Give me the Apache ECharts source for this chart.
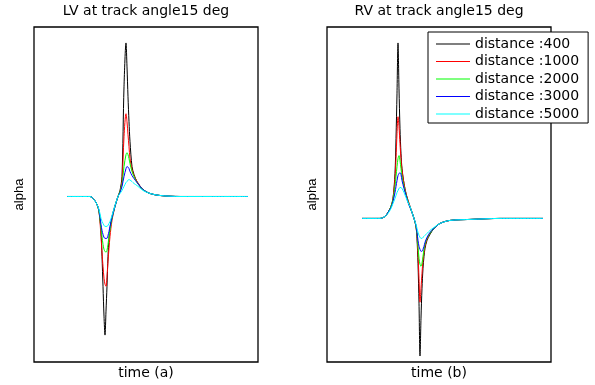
<!DOCTYPE html>
<html>
<head>
<meta charset="utf-8">
<script src="https://cdn.jsdelivr.net/npm/echarts@6/dist/echarts.min.js"></script>
<style>html,body{margin:0;padding:0;background:#fff}#c{width:595px;height:385px}</style>
</head>
<body>
<div id="c"></div>
<script>
// ---- data (time in arbitrary samples, alpha in arbitrary units) ----
const seriesNames = ['distance :400', 'distance :1000', 'distance :2000', 'distance :3000', 'distance :5000'];
const seriesColors = ['#000000', '#ff0000', '#00ff00', '#0000ff', '#00ffff'];

const timeLV = [33, 51, 56, 60, 63, 65, 67, 68, 69, 70, 71, 72, 73, 74, 75, 76, 78, 81, 84, 86, 88, 90, 92, 93, 94, 95, 96, 98, 100, 103, 109, 116, 126, 146, 176, 214];
const lv400  = [0, 0, 0, -3, -8, -15, -35, -60, -90, -120, -139, -115, -90, -60, -42, -32, -20, -9, 0, 6, 20, 110, 154, 130, 100, 75, 55, 30, 22, 15, 7, 3, 1, 0, 0, 0];
const lv1000 = [0, 0, 0, -3, -8, -15, -40, -56, -70, -82, -88, -90, -80, -65, -52, -40, -24, -10, 0, 5, 15, 60, 83, 75, 62, 50, 38, 27, 21, 15, 7, 3, 1, 0, 0, 0];
const lv2000 = [0, 0, 0, -3, -8, -15, -32, -40, -48, -53, -55, -56, -54, -48, -40, -33, -22, -10, 0, 5, 12, 30, 42, 44, 42, 38, 33, 25, 20, 14, 7, 3, 1, 0, 0, 0];
const lv3000 = [0, 0, 0, -3, -8, -14, -28, -34, -38, -41, -42, -42, -42, -39, -35, -30, -21, -10, 0, 4, 10, 20, 28, 30, 29.5, 28, 25, 21, 18, 14, 7, 3, 1, 0, 0, 0];
const lv5000 = [0, 0, 0, -3, -8, -13, -22, -25, -27, -29, -30, -30, -30, -29, -27, -25, -19, -9, 0, 3, 6, 10, 14, 15, 16.5, 17, 16.5, 15, 13, 11, 6, 3, 1, 0, 0, 0];

const timeRV = [35, 53, 58, 61, 64, 66, 68, 69, 70, 71, 72, 73, 74, 75, 77, 79, 81, 83, 85, 87, 89, 90, 91, 92, 93, 94, 95, 96, 97, 98, 100, 103, 107, 113, 123, 143, 173, 216];
const rv400  = [0, 0, 2, 6, 12, 20, 45, 80, 125, 176, 130, 90, 65, 50, 35, 25, 18, 12, 6, 0, -8, -20, -45, -85, -138, -100, -70, -50, -38, -30, -22, -16, -10, -5, -2, -1, 0, 0];
const rv1000 = [0, 0, 2, 6, 12, 20, 40, 60, 85, 102, 92, 75, 60, 48, 35, 25, 18, 12, 6, 0, -8, -18, -35, -60, -84, -70, -55, -42, -34, -28, -21, -15, -10, -5, -2, -1, 0, 0];
const rv2000 = [0, 0, 2, 6, 12, 19, 32, 42, 52, 60, 63, 58, 50, 42, 32, 24, 17, 11, 6, 0, -8, -16, -28, -40, -46, -48, -45, -38, -31, -26, -20, -15, -10, -5, -2, -1, 0, 0];
const rv3000 = [0, 0, 2, 6, 11, 17, 26, 32, 38, 43, 45, 46, 44, 38, 30, 23, 16, 11, 6, 0, -7, -14, -22, -28, -31, -33, -33, -31, -28, -24, -19, -14, -10, -5, -2, -1, 0, 0];
const rv5000 = [0, 0, 2, 5, 10, 15, 20, 23, 26, 28, 30, 31, 31, 30, 26, 21, 16, 12, 6, 0, -6, -10, -14, -17, -19, -20, -20, -19, -18, -17, -15, -12, -9, -5, -2, -1, 0, 0];

const titles = ['LV at track angle15 deg', 'RV at track angle15 deg'];
const xNames = ['time (a)', 'time (b)'];
const yName = 'alpha';

// ---- chart ----
const lvSets = [lv400, lv1000, lv2000, lv3000, lv5000];
const rvSets = [rv400, rv1000, rv2000, rv3000, rv5000];
const zip = (xs, ys) => xs.map((x, i) => [x, ys[i]]);

const chart = echarts.init(document.getElementById('c'), null, {renderer: 'canvas'});
const wideFont = 'DejaVu Sans';
const baseFont = 'Liberation Sans, Arial, sans-serif';

function xAx(idx, name) {
  return {
    type: 'value', gridIndex: idx, min: 0, max: 224,
    name: name, nameLocation: 'middle', nameGap: 4,
    nameTextStyle: {fontFamily: wideFont, fontSize: 14, color: '#000', verticalAlign: 'top'},
    axisLine: {show: false}, axisTick: {show: false}, axisLabel: {show: false}, splitLine: {show: false}
  };
}
function yAx(idx, min, max) {
  return {
    type: 'value', gridIndex: idx, min: min, max: max,
    name: yName, nameLocation: 'middle', nameGap: 8,
    nameTextStyle: {fontFamily: baseFont, fontSize: 13, color: '#000'},
    axisLine: {show: false}, axisTick: {show: false}, axisLabel: {show: false}, splitLine: {show: false}
  };
}

const series = [];
seriesNames.forEach((n, i) => {
  series.push({name: n, type: 'line', xAxisIndex: 0, yAxisIndex: 0, data: zip(timeLV, lvSets[i]),
    symbol: 'none', smooth: 0.3, lineStyle: {color: seriesColors[i], width: 1}, itemStyle: {color: seriesColors[i]}, animation: false, z: 2 + i});
});
seriesNames.forEach((n, i) => {
  series.push({name: n, type: 'line', xAxisIndex: 1, yAxisIndex: 1, data: zip(timeRV, rvSets[i]),
    symbol: 'none', smooth: 0.3, lineStyle: {color: seriesColors[i], width: 1}, itemStyle: {color: seriesColors[i]}, animation: false, z: 2 + i});
});

chart.setOption({
  backgroundColor: '#fff',
  animation: false,
  grid: [
    {left: 34, top: 27, width: 224, height: 336, show: true, borderColor: '#000', borderWidth: 1.3, backgroundColor: 'transparent'},
    {left: 327, top: 27, width: 224, height: 336, show: true, borderColor: '#000', borderWidth: 1.3, backgroundColor: 'transparent'}
  ],
  xAxis: [xAx(0, xNames[0]), xAx(1, xNames[1])],
  yAxis: [yAx(0, -166, 170), yAx(1, -144, 192)],
  legend: {
    data: seriesNames.map(n => ({name: n, icon: 'rect'})), orient: 'vertical', left: 428, top: 32,
    backgroundColor: '#fff', borderColor: '#000', borderWidth: 1,
    padding: [5, 9, 2, 8], itemGap: 3.5, itemWidth: 34, itemHeight: 1.2, itemTextGap: 4,
    itemStyle: {borderWidth: 0},
    textStyle: {fontFamily: wideFont, fontSize: 14, color: '#000', lineHeight: 14},
    z: 10
  },
  graphic: [
    {type: 'text', x: 146, y: 11, style: {text: titles[0], align: 'center', verticalAlign: 'middle', font: '14px "DejaVu Sans"', fill: '#000'}},
    {type: 'text', x: 439, y: 11, style: {text: titles[1], align: 'center', verticalAlign: 'middle', font: '14px "DejaVu Sans"', fill: '#000'}}
  ],
  series: series
});
</script>
</body>
</html>
